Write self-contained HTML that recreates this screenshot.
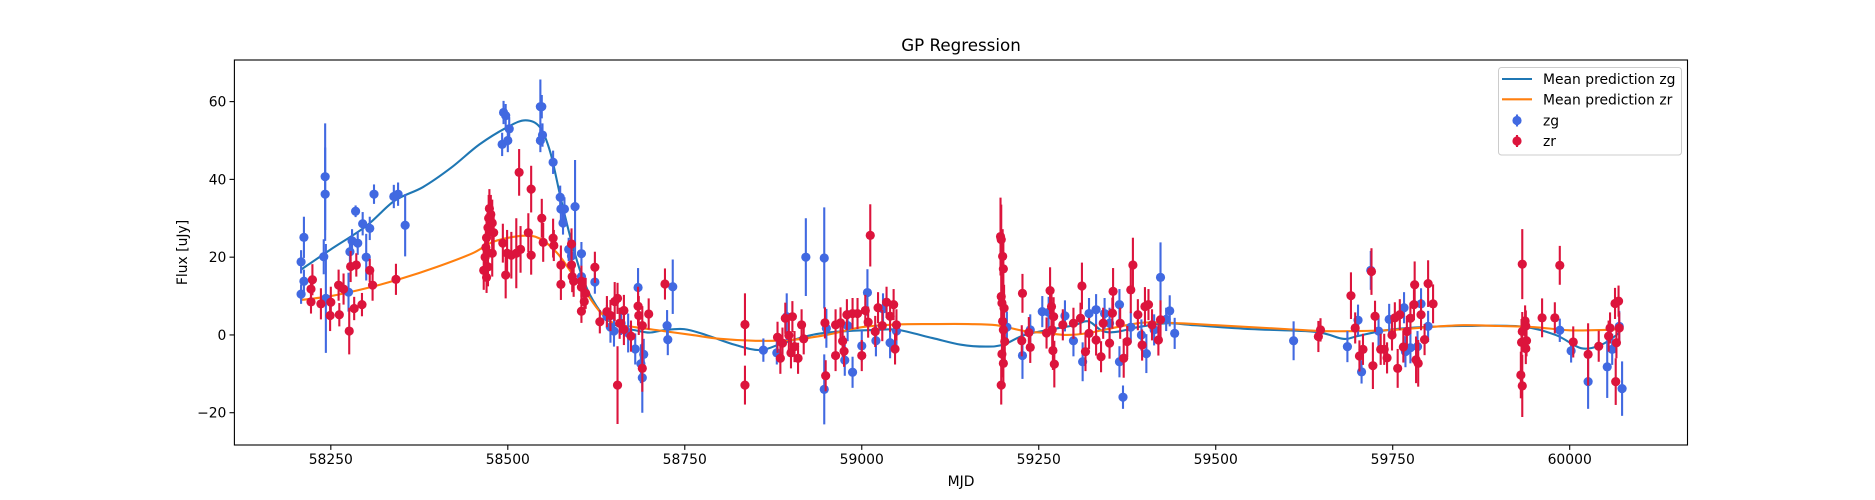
<!DOCTYPE html>
<html><head><meta charset="utf-8"><style>
body{margin:0;background:#fff}
svg{display:block;font-family:"DejaVu Sans","Liberation Sans",sans-serif}
</style></head><body>
<svg id="chart" width="1875" height="500" viewBox="0 0 1875 500">
<rect width="1875" height="500" fill="#fff"/>
<text x="961" y="51" font-size="16.7" text-anchor="middle" fill="#000">GP Regression</text>
<text x="961" y="486" font-size="13.9" text-anchor="middle" fill="#000">MJD</text>
<text transform="translate(187,252.5) rotate(-90)" font-size="13.9" text-anchor="middle" fill="#000">Flux [uJy]</text>
<g id="plot"></g>
</svg>
<script>
const xTicks=[58250,58500,58750,59000,59250,59500,59750,60000];
const yTicks=[-20,0,20,40,60];
const zgMjd=[58208,58208,58212,58212,58240,58242,58242,58243,58275,58277,58280,58285,58288,58295,58300,58305,58311,58339,58345,58355,58494,58497,58492,58500,58502,58546,58548,58546,58549,58564,58574,58575,58580,58578,58595,58586,58590,58604,58604,58623,58640,58645,58650,58660,58670,58680,58684,58688,58690,58692,58726,58733,58725,58861,58880,58894,58921,58947,58947,58950,58987,58976,58980,59008,59000,59020,59030,59049,59040,59205,59227,59238,59255,59264,59287,59299,59312,59321,59331,59343,59350,59364,59364,59369,59380,59395,59402,59413,59422,59430,59435,59442,59610,59686,59701,59706,59719,59730,59745,59766,59768,59775,59790,59800,59785,59986,60002,60026,60053,60060,60074,60070];
const zgFlux=[18.8,10.5,25.1,13.8,20.1,40.7,36.2,9.4,11,21.4,24.2,31.8,23.6,28.6,20,27.4,36.2,35.6,36.2,28.2,57.2,56.4,49,50,53,58.7,58.7,50,51.4,44.4,35.4,32.4,32.4,28.8,33,22,20.3,20.9,15,13.6,4.7,2,1,3,0.5,-3.6,12.2,-7.4,-11,-5,-1.2,12.4,2.4,-3.9,-4.6,4.7,20,19.8,-14,1.7,-9.6,-6.5,2.4,10.9,-2.8,-1.5,6.7,1,-2,2,-5.3,1.3,6,5.8,4.9,-1.5,-6.9,5.5,6.5,5.5,3,7.8,-6.9,-16,2,0,-4.8,1.3,14.8,4,6.2,0.4,-1.5,-3,3.8,-9.5,16.6,1,4,7,-4.3,-3.3,8,2.2,-3,1.2,-4.1,-12,-8.2,-3.7,-13.8,2.2];
const zgErr=[3,2.5,5.3,3,4.5,13.7,12,14,5,3,3,1.5,3,3,6,3,2.5,3,3,8,3,3,3,3,3,7,3,3,3,3,3,3,3,3,12,3,3,3,3,3,3,4,4,3,5,4,5,5,9,4,4,7,4,3,3,6,10,13,9,5,4,4,4,6,4,4,4,4,4,4,6,4,4,4,4,4,5,4,4,4,4,4,4,3,4,4,5,4,9,3,4,4,5,4,4,3,5,4,4,4,4,4,4,4,4,3,3,7,8,4,7,4];
const zrMjd=[58222,58224,58222,58236,58249,58250,58261,58262,58268,58276,58278,58286,58283,58294,58305,58309,58342,58466,58468,58469,58470,58472,58473,58474,58476,58478,58472,58470,58480,58478,58493,58497,58499,58505,58516,58512,58518,58529,58533,58533,58548,58550,58564,58565,58575,58575,58590,58590,58591,58593,58604,58604,58610,58608,58604,58623,58630,58640,58645,58651,58655,58658,58664,58664,58674,58684,58685,58690,58690,58699,58655,58722,58835,58835,58881,58885,58888,58892,58897,58900,58902,58905,58910,58915,58918,58949,58948,58963,58970,58973,58975,58963,58979,58987,58994,59000,59005,59009,59012,59019,59023,59029,59035,59040,59045,59047,59049,59196,59197,59199,59200,59197,59198,59201,59199,59200,59202,59198,59200,59197,59227,59226,59238,59236,59261,59266,59268,59271,59270,59272,59269,59284,59299,59309,59311,59316,59321,59331,59341,59338,59350,59355,59354,59365,59370,59375,59383,59380,59390,59396,59400,59405,59410,59419,59422,59645,59648,59691,59697,59703,59708,59720,59722,59725,59733,59742,59738,59753,59749,59757,59760,59770,59775,59781,59783,59786,59780,59790,59800,59807,59795,59765,59933,59933,59932,59931,59933,59937,59938,59939,59938,59961,59979,59986,60005,60026,60041,60055,60057,60064,60069,60065,60066,60070];
const zrFlux=[11.8,14.2,8.5,8,5,8.4,12.8,5.2,11.8,1,17.6,18,6.8,7.8,16.6,12.8,14.3,16.6,20,22.5,25,27.6,30,32.5,31,28.8,17.5,14.8,26.3,21,23.6,15.4,21,20.5,41.8,21,22,26.3,37.5,20.5,30,23.8,24.9,23,18,13,23.4,18,15,13.8,13.8,12.3,10.7,8.6,6.1,17.4,3.4,6,5,8.6,9.4,3,6.3,1.4,-0.3,7.4,5,2.4,-8.6,5.4,-12.9,13.1,2.7,-12.9,-0.6,-6,-2.1,4.3,-0.1,-4.6,4.7,-3,-6,2.6,-1,-10.5,3.1,2.6,3.1,-1.6,-4.2,-5.3,5.2,5.5,5.5,-5.3,6.3,3.3,25.6,0.9,7,2.4,8.4,4.8,7.8,-3.6,2.6,25.3,24.5,20.2,17,9.9,8.2,6.9,3.5,1.3,-1.7,-4.9,-7.3,-12.9,10.7,-1.5,-3.2,0.6,0.5,11.4,7.3,4.7,-4,-7.5,1.3,2.6,3,4.3,12.6,-4.3,0.4,-1.3,3,-5.6,-2.1,11.2,5.6,3,-6,-1.7,18,11.6,5.2,-2.6,7.3,7.8,2.6,-1.3,3.9,-0.4,1.3,10.1,1.8,-5.4,-3.7,16.3,-7.9,4.8,-3.7,-5.9,-3.7,4.4,0,-8.6,5.2,0.9,4.3,12.9,-6.4,-7.3,7.8,5.2,13.2,8,-1.2,-3.1,18.2,0.9,-1.9,-10.3,-13.1,3.6,2.3,-1.5,-3.5,4.4,4.4,17.9,-1.8,-5,-2.9,-0.3,1.8,8.1,8.7,-12,-2,1.8];
const zrErr=[3,4,3,4,4,4,4,3,4,6,4,3,3,3,3,4,4,5,5,5,6,5,6,5,5,6,5,4,5,6,5,6,6,6,6,9,6,5,6,5,5,5,5,4,5,4,4,4,4,4,4,4,4,3,3,4,3,4,4,5,4,4,4,4,4,5,5,5,6,4,10,4,8,5,4,4,4,4,4,4,4,4,4,4,4,4,4,4,4,4,4,4,4,4,4,4,4,4,8,4,4,4,4,4,4,4,4,10,9,7,8,6,8,6,6,5,5,6,6,5,5,4,4,4,4,6,5,5,5,6,5,4,4,4,6,5,4,4,4,4,4,6,4,4,5,4,7,6,4,4,5,4,4,4,5,4,3,6,4,4,4,6,6,4,4,4,4,4,4,5,4,4,4,6,6,6,4,4,6,5,4,4,9,5,6,6,8,4,4,4,4,5,4,5,4,8,4,4,4,4,4,6,4,4];
const zgCurveMjd=[58208,58250,58300,58340,58380,58420,58460,58500,58525,58545,58560,58575,58590,58605,58620,58640,58660,58680,58700,58720,58749,58780,58820,58857,58890,58935,58980,59020,59051,59100,59140,59175,59200,59230,59270,59300,59320,59340,59360,59390,59430,59470,59550,59640,59680,59700,59740,59790,59850,59930,59980,60016,60045,60070];
const zgCurveFlux=[16.8,22,28,34.5,38,43,49,53.5,55.2,53.5,47,35,24,15,9,4,2,1.2,0.6,1.2,1.5,0,-2.5,-3.9,-2,0.2,1,1.3,1.3,-0.8,-2.5,-3,-2.5,0,1.5,2.5,3.5,1,0.8,2,3,2.5,1.5,0.8,-1,-0.3,1.2,2,2.3,2.2,0,-3.4,-2.5,0.5];
const zrCurveMjd=[58208,58250,58300,58350,58400,58450,58480,58520,58545,58570,58590,58610,58630,58650,58680,58720,58760,58800,58850,58900,58950,59000,59050,59100,59150,59190,59230,59260,59290,59320,59360,59400,59450,59500,59600,59650,59700,59750,59800,59850,59900,59950,60000,60050,60070];
const zrCurveFlux=[9,10,12,14.5,17.5,21,24,25.5,24.8,21,16,11,6,3,2,1,0,-1,-1.5,-1.3,0,2,2.7,2.8,2.8,2.5,1,0.5,0,0.5,2,3.2,3,2.5,1.5,1,1,1.3,2,2.5,2.3,2,1.2,1.3,1.5];

const L=234.4,R=1687.5,T=60,B=445;
const xMin=58113.8,xMax=60166.4,yMin=-28.3,yMax=70.7;
const sx=v=>L+(v-xMin)/(xMax-xMin)*(R-L);
const sy=v=>B-(v-yMin)/(yMax-yMin)*(B-T);
const NS='http://www.w3.org/2000/svg';
const plot=document.getElementById('plot');
function mk(tag,attrs,parent){const e=document.createElementNS(NS,tag);for(const k in attrs)e.setAttribute(k,attrs[k]);(parent||plot).appendChild(e);return e;}

const clip=mk('clipPath',{id:'clipP'});
mk('rect',{x:L,y:T,width:R-L,height:B-T},clip);

xTicks.forEach(t=>{
  const g=mk('g',{});
  
  
  mk('line',{x1:sx(t),x2:sx(t),y1:B,y2:B+4.9,stroke:'#000','stroke-width':1.1},g);
  const tx=mk('text',{x:sx(t),y:B+19,'font-size':13.9,'text-anchor':'middle',fill:'#000'},g);
  tx.textContent=t;
});
yTicks.forEach(t=>{
  const g=mk('g',{});
  
  
  mk('line',{x1:L-4.9,x2:L,y1:sy(t),y2:sy(t),stroke:'#000','stroke-width':1.1},g);
  const tx=mk('text',{x:L-8,y:sy(t)+5,'font-size':13.9,'text-anchor':'end',fill:'#000'},g);
  tx.textContent=t<0?'\u2212'+(-t):t;
});

function curve(xs,ys,color,name){
  const p=xs.map((x,i)=>[sx(x),sy(ys[i])]);
  let d='M'+p[0][0]+','+p[0][1];
  for(let i=0;i<p.length-1;i++){
    const p0=p[i-1]||p[i],p1=p[i],p2=p[i+1],p3=p[i+2]||p2;
    const c1=[p1[0]+(p2[0]-p0[0])/6,p1[1]+(p2[1]-p0[1])/6];
    const c2=[p2[0]-(p3[0]-p1[0])/6,p2[1]-(p3[1]-p1[1])/6];
    d+=' C'+c1[0]+','+c1[1]+' '+c2[0]+','+c2[1]+' '+p2[0]+','+p2[1];
  }
  const e=mk('path',{d:d,fill:'none',stroke:color,'stroke-width':2.1,'clip-path':'url(#clipP)'});
  
  
}
function points(xs,ys,es,color,name){
  const g=mk('g',{'clip-path':'url(#clipP)'});
  
  
  xs.forEach((x,i)=>{
    const cx=sx(x);
    mk('line',{x1:cx,x2:cx,y1:sy(ys[i]-es[i]),y2:sy(ys[i]+es[i]),stroke:color,'stroke-width':2.1},g);
    const c=mk('circle',{cx:cx,cy:sy(ys[i]),r:4.6,fill:color},g);
    
    
  });
}
curve(zgCurveMjd,zgCurveFlux,'#1f77b4','mean-prediction-zg-line');
curve(zrCurveMjd,zrCurveFlux,'#ff7f0e','mean-prediction-zr-line');
points(zgMjd,zgFlux,zgErr,'#4169e1','zg-series');
points(zrMjd,zrFlux,zrErr,'#dc143c','zr-series');

const frame=mk('rect',{x:L,y:T,width:R-L,height:B-T,fill:'none',stroke:'#000','stroke-width':1.1});



const lg=mk('g',{});


mk('rect',{x:1498.5,y:67.5,width:183,height:87.5,rx:3,fill:'#fff','fill-opacity':0.8,stroke:'#ccc','stroke-width':1},lg);
const items=[['Mean prediction zg','line','#1f77b4',79],['Mean prediction zr','line','#ff7f0e',99.3],['zg','pt','#4169e1',120.5],['zr','pt','#dc143c',141]];
items.forEach(it=>{
  const g=mk('g',{},lg);
  
  
  if(it[1]==='line') mk('line',{x1:1502,x2:1532,y1:it[3],y2:it[3],stroke:it[2],'stroke-width':2.1},g);
  else{mk('line',{x1:1517,x2:1517,y1:it[3]-6,y2:it[3]+6,stroke:it[2],'stroke-width':2.1},g);mk('circle',{cx:1517,cy:it[3],r:4.6,fill:it[2]},g);}
  const t=mk('text',{x:1543,y:it[3]+5,'font-size':13.9,fill:'#000'},g);
  t.textContent=it[0];
});
</script>
</body></html>
